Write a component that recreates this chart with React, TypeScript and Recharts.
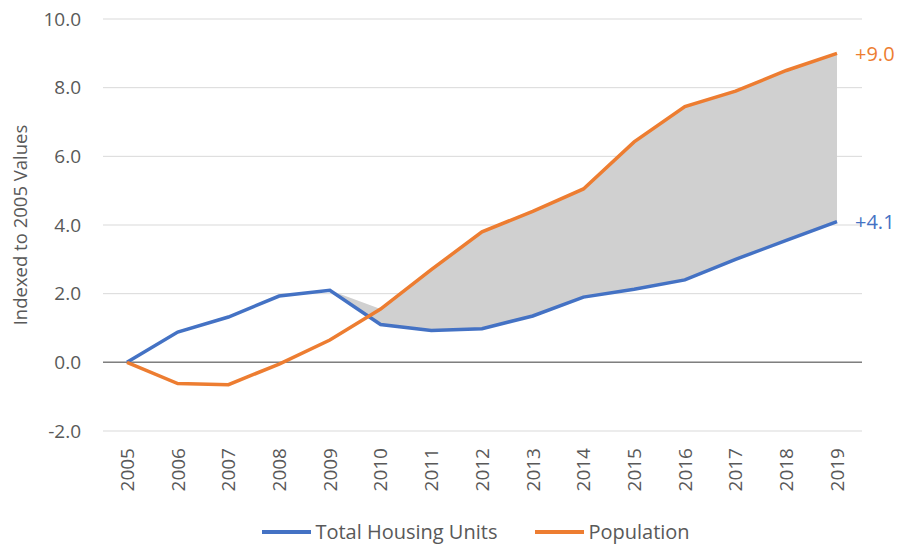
import React from "react";
import {
  Area,
  CartesianGrid,
  ComposedChart,
  Legend,
  Line,
  ReferenceLine,
  XAxis,
  YAxis,
} from "recharts";

if (typeof document !== "undefined") document.body.style.margin = "0";

const years = [2005, 2006, 2007, 2008, 2009, 2010, 2011, 2012, 2013, 2014, 2015, 2016, 2017, 2018, 2019];
const housing = [0, 0.88, 1.32, 1.93, 2.1, 1.1, 0.93, 0.98, 1.35, 1.9, 2.13, 2.4, 3.0, 3.55, 4.1];
const population = [0, -0.62, -0.65, -0.05, 0.65, 1.55, 2.7, 3.8, 4.4, 5.05, 6.42, 7.45, 7.9, 8.5, 9.0];
const yTicks = [-2, 0, 2, 4, 6, 8, 10];
const gapStart = 2009;

const BLUE = "#4472C4";
const ORANGE = "#ED7D31";
const TEXT = "#595959";
const FONT = "'Open Sans', sans-serif";

const data = years.map((year, i) => ({
  year,
  housing: housing[i],
  population: population[i],
  gap:
    year < gapStart ? undefined : year === gapStart ? [housing[i], housing[i]] : [housing[i], population[i]],
}));

const last = data.length - 1;

function YearTick({ x, y, payload }: any) {
  return (
    <g transform={`translate(${x},${y + 9})`}>
      <text transform="rotate(-90)" textAnchor="end" dy="0.36em" fill={TEXT} fontSize={19} fontFamily={FONT}>
        {payload.value}
      </text>
    </g>
  );
}

function endLabel(color: string) {
  return ({ x, y, index, value }: any) =>
    index === last ? (
      <text x={x + 18} y={y} dy="0.36em" fill={color} fontSize={20} fontFamily={FONT}>
        {`+${Number(value).toFixed(1)}`}
      </text>
    ) : null;
}

function LegendBox() {
  const items = [
    { name: "Total Housing Units", color: BLUE },
    { name: "Population", color: ORANGE },
  ];
  return (
    <div
      style={{
        display: "flex",
        justifyContent: "center",
        paddingLeft: 90,
        paddingTop: 4,
        boxSizing: "border-box",
        width: 862,
        height: 28,
        fontFamily: FONT,
        fontSize: 20,
        lineHeight: "22px",
        color: TEXT,
      }}
    >
      {items.map((it, i) => (
        <div
          key={it.name}
          style={{ display: "flex", alignItems: "center", flexShrink: 0, marginLeft: i === 0 ? 0 : 38 }}
        >
          <svg width={49} height={6} style={{ flexShrink: 0, marginRight: 4 }}>
            <line x1={0} y1={3} x2={49} y2={3} stroke={it.color} strokeWidth={4} />
          </svg>
          <span style={{ whiteSpace: "nowrap" }}>{it.name}</span>
        </div>
      ))}
    </div>
  );
}

export default function App() {
  return (
    <ComposedChart
      width={898}
      height={544}
      data={data}
      margin={{ top: 19, right: 36, bottom: 0, left: 0 }}
      style={{ fontFamily: FONT }}
    >
      <CartesianGrid vertical={false} stroke="#d9d9d9" />
      <XAxis
        dataKey="year"
        axisLine={false}
        tickLine={false}
        height={85}
        padding={{ left: 24, right: 25 }}
        interval={0}
        tick={<YearTick />}
      />
      <YAxis
        width={103}
        domain={[-2, 10]}
        ticks={yTicks}
        axisLine={false}
        tickLine={false}
        tickMargin={16}
        tickFormatter={(v: number) => v.toFixed(1)}
        tick={{ fill: TEXT, fontSize: 19, fontFamily: FONT }}
        label={{
          content: ({ viewBox }: any) => {
            const cy = viewBox.y + viewBox.height / 2;
            return (
              <text
                x={19}
                y={cy}
                transform={`rotate(-90, 19, ${cy})`}
                textAnchor="middle"
                dominantBaseline="central"
                fill={TEXT}
                fontSize={18.5}
                fontFamily={FONT}
              >
                Indexed to 2005 Values
              </text>
            );
          },
        }}
      />
      <Area
        dataKey="gap"
        type="linear"
        fill="#d0d0d0"
        fillOpacity={1}
        stroke="none"
        isAnimationActive={false}
        legendType="none"
        activeDot={false}
      />
      <ReferenceLine y={0} stroke="#7f7f7f" strokeWidth={1.5} />
      <Line
        dataKey="housing"
        name="Total Housing Units"
        type="linear"
        stroke={BLUE}
        strokeWidth={3.5}
        dot={false}
        isAnimationActive={false}
        label={endLabel(BLUE)}
      />
      <Line
        dataKey="population"
        name="Population"
        type="linear"
        stroke={ORANGE}
        strokeWidth={3.5}
        dot={false}
        isAnimationActive={false}
        label={endLabel(ORANGE)}
      />
      <Legend verticalAlign="bottom" height={28} content={<LegendBox />} />
    </ComposedChart>
  );
}
